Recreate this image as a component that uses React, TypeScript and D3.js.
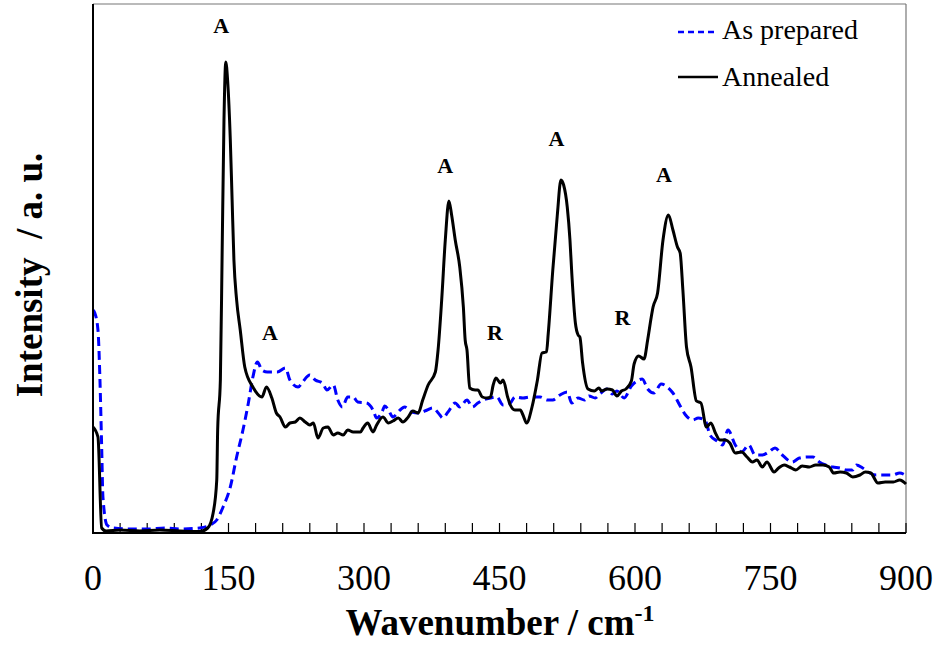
import React from "react";
import * as d3 from "d3";

const annealedX = [0, 5.5, 9.6, 14.4, 30, 52, 74, 96, 118, 127, 133, 137, 138, 141, 143, 145, 147, 149, 152, 154, 156, 159, 163, 168, 177, 187, 192, 198, 203, 207, 213, 218, 224, 229, 235, 240, 244, 249, 255, 260, 266, 271, 277, 282, 288, 296, 299, 304, 310, 314, 321, 327, 332, 338, 343, 349, 354, 360, 365, 371, 379, 382, 386, 390, 394, 397, 401, 406, 410, 412, 414, 417, 423, 426, 431, 436, 440, 443, 446, 451, 454, 459, 462, 467, 473, 476, 480, 486, 492, 497, 502, 504, 509, 514, 518, 521, 525, 528, 530, 534, 537, 539, 542, 548, 555, 560, 563, 569, 575, 580, 585, 590, 596, 599, 604, 610, 614, 618, 620, 625, 631, 637, 642, 647, 650, 653, 657, 662, 668, 673, 679, 684, 689, 694, 700, 705, 711, 718, 724, 730, 735, 741, 746, 754, 759, 765, 771, 778, 785, 793, 800, 808, 815, 820, 827, 834, 841, 849, 855, 861, 869, 877, 886, 893, 900];
const annealedY = [106, 96, 5, 2, 3, 2, 3, 2, 1.5, 5, 20, 53, 103, 153, 283, 413, 471, 453, 393, 333, 273, 233, 203, 166, 146, 136, 146, 135, 120, 116, 106, 110, 111, 115, 111, 108, 110, 95, 105, 106, 98, 100, 98, 103, 101, 101, 105, 110, 101, 108, 116, 110, 112, 115, 111, 116, 122, 120, 133, 148, 161, 183, 233, 293, 332, 318, 293, 266, 226, 193, 183, 145, 143, 143, 136, 135, 136, 148, 155, 150, 153, 136, 128, 123, 123, 118, 110, 126, 153, 180, 181, 200, 263, 318, 353, 348, 326, 293, 260, 210, 198, 196, 170, 144, 142, 145, 142, 144, 143, 137, 142, 144, 152, 169, 177, 174, 193, 216, 226, 240, 293, 318, 303, 286, 280, 243, 186, 166, 132, 130, 106, 110, 100, 93, 93, 90, 80, 81, 76, 71, 73, 66, 71, 61, 65, 68, 66, 63, 67, 66, 68, 68, 66, 60, 61, 60, 56, 58, 61, 60, 50, 51, 51, 53, 49];

const preparedX = [0, 2, 5.5, 7.7, 9.6, 11, 15.5, 22, 41, 60, 80, 96, 118, 130, 137, 144, 152, 159, 166, 172, 177, 182, 187, 193, 204, 213, 218, 227, 232, 240, 246, 254, 259, 266, 271, 276, 282, 288, 293, 303, 310, 314, 320, 323, 327, 332, 340, 345, 353, 360, 370, 376, 384, 387, 393, 401, 406, 414, 420, 426, 432, 440, 447, 454, 462, 467, 476, 484, 495, 503, 509, 517, 525, 530, 537, 544, 549, 556, 561, 569, 575, 580, 588, 596, 602, 608, 614, 621, 629, 637, 642, 650, 656, 664, 670, 678, 683, 691, 697, 703, 711, 718, 726, 733, 741, 748, 755, 763, 774, 782, 791, 797, 804, 811, 819, 827, 834, 841, 845, 852, 860, 867, 875, 885, 893, 899];
const preparedY = [223, 220, 203, 153, 86, 36, 8, 5, 4, 4, 5, 4, 5, 8, 13, 26, 46, 76, 103, 130, 156, 171, 163, 161, 161, 165, 153, 146, 151, 158, 153, 150, 143, 148, 133, 126, 136, 136, 131, 130, 123, 115, 121, 127, 123, 116, 123, 126, 121, 120, 123, 125, 118, 115, 121, 130, 126, 133, 126, 130, 133, 135, 136, 128, 130, 136, 135, 136, 136, 133, 133, 138, 141, 130, 135, 133, 137, 135, 139, 144, 139, 142, 135, 147, 152, 154, 144, 140, 149, 145, 140, 127, 118, 113, 115, 112, 98, 92, 88, 103, 88, 81, 88, 78, 78, 81, 85, 78, 71, 75, 76, 76, 71, 68, 66, 65, 63, 63, 68, 65, 60, 58, 58, 58, 60, 58];

const xTickLabels = [0, 150, 300, 450, 600, 750, 900];
const seriesNames = ["As prepared", "Annealed"];
const peakLabels = ["A", "A", "A", "R", "A", "R", "A"];
const peakX = [142, 196, 390, 445, 513, 586, 632];
const peakY = [500, 193, 360, 193, 387, 208, 351];

const W = 941;
const H = 652;
const left = 93;
const right = 906;
const top = 4;
const bottom = 533;
const SERIF = "'Liberation Serif', 'Times New Roman', serif";

export default function App() {
  const x = d3.scaleLinear().domain([0, 900]).range([left, right]);
  const y = d3.scaleLinear().domain([0, 529]).range([bottom, top]);
  const line = d3
    .line<[number, number]>()
    .x((d) => x(d[0]))
    .y((d) => y(d[1]))
    .curve(d3.curveMonotoneX);
  const annealed = annealedX.map((v, i) => [v, annealedY[i]] as [number, number]);
  const prepared = preparedX.map((v, i) => [v, preparedY[i]] as [number, number]);
  const minorTicks = d3.range(0, 901, 30);
  const tx = { fontFamily: SERIF } as React.CSSProperties;

  return (
    <svg
      width={W}
      height={H}
      style={{ position: "absolute", left: 0, top: 0, background: "#fff" }}
    >
      <rect x={0} y={0} width={W} height={H} fill="#fff" />
      <line x1={left} y1={top} x2={right} y2={top} stroke="#777" strokeWidth={1.2} />
      <line x1={right} y1={top} x2={right} y2={bottom} stroke="#777" strokeWidth={1.2} />
      {minorTicks.map((t) => (
        <line key={t} x1={x(t)} x2={x(t)} y1={bottom} y2={bottom - 10} stroke="#000" strokeWidth={1.2} />
      ))}
      <path d={line(prepared) || ""} fill="none" stroke="#0000ff" strokeWidth={3} strokeDasharray="9,5" />
      <path d={line(annealed) || ""} fill="none" stroke="#000" strokeWidth={3} strokeLinejoin="round" />
      <line x1={left} y1={top} x2={left} y2={bottom + 1} stroke="#000" strokeWidth={2} />
      <line x1={left - 1} y1={bottom} x2={right} y2={bottom} stroke="#000" strokeWidth={2} />
      {xTickLabels.map((t) => (
        <text key={t} x={x(t)} y={590} textAnchor="middle" fontSize={36} style={tx}>
          {t}
        </text>
      ))}
      <text x={500} y={635} textAnchor="middle" fontSize={37} fontWeight="bold" style={tx}>
        Wavenumber / cm<tspan dy={-14} fontSize={24}>-1</tspan>
      </text>
      <text
        transform={`translate(42,275) rotate(-90)`}
        textAnchor="middle"
        fontSize={37}
        fontWeight="bold"
        style={{ ...tx, whiteSpace: "pre" }}
      >
        {"Intensity  / a. u."}
      </text>
      {peakLabels.map((p, i) => (
        <text key={i} x={x(peakX[i])} y={y(peakY[i])} textAnchor="middle" fontSize={22} fontWeight="bold" style={tx}>
          {p}
        </text>
      ))}
      <line x1={678} x2={718} y1={32} y2={32} stroke="#0000ff" strokeWidth={2.5} strokeDasharray="6,4" />
      <text x={722} y={39} fontSize={28} style={tx}>{seriesNames[0]}</text>
      <line x1={678} x2={718} y1={77} y2={77} stroke="#000" strokeWidth={2.5} />
      <text x={722} y={86} fontSize={28} style={tx}>{seriesNames[1]}</text>
    </svg>
  );
}
